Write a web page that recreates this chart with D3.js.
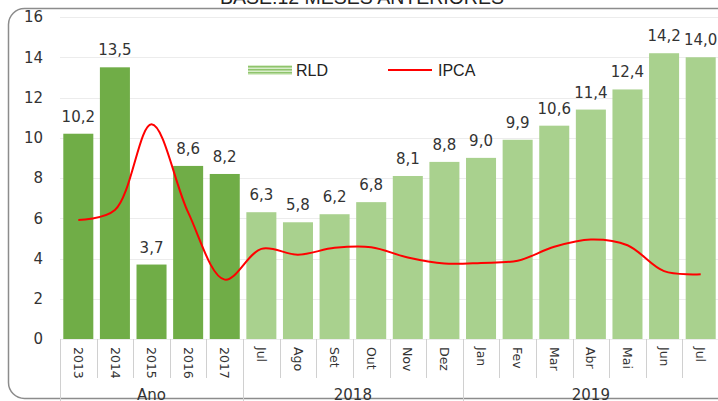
<!DOCTYPE html>
<html>
<head>
<meta charset="utf-8">
<script src="https://cdn.jsdelivr.net/npm/d3@7"></script>
<style>
  body { margin: 0; background: #fff; }
  svg { display: block; }
  text { font-family: "DejaVu Sans", sans-serif; }
</style>
</head>
<body>
<div id="chart"></div>
<script>
// data
var categories = ["2013", "2014", "2015", "2016", "2017",
    "Jul", "Ago", "Set", "Out", "Nov", "Dez",
    "Jan", "Fev", "Mar", "Abr", "Mai", "Jun", "Jul "];
var rld = [10.2, 13.5, 3.7, 8.6, 8.2, 6.3, 5.8, 6.2, 6.8, 8.1, 8.8, 9.0, 9.9, 10.6, 11.4, 12.4, 14.2, 14.0];
var ipca = [5.91, 6.41, 10.67, 6.29, 2.95, 4.48, 4.19, 4.53, 4.56, 4.05, 3.75, 3.78, 3.89, 4.58, 4.94, 4.66, 3.37, 3.22];
var groups = [
    { name: "Ano", from: 0, to: 5 },
    { name: "2018", from: 5, to: 11 },
    { name: "2019", from: 11, to: 18 }
];
var yTicks = [0, 2, 4, 6, 8, 10, 12, 14, 16];
var title = "BASE:12 MESES ANTERIORES";

var W = 718, H = 401;
var svg = d3.select("#chart").append("svg")
    .attr("width", W)
    .attr("height", H);

// rounded frame
svg.append("rect")
    .attr("x", 8.5).attr("y", 8.5)
    .attr("width", 725).attr("height", 390)
    .attr("rx", 16).attr("ry", 16)
    .attr("fill", "none")
    .attr("stroke", "#8c8c8c")
    .attr("stroke-width", 1.5);

// title, mostly cut off at top
svg.append("text")
    .attr("x", 362).attr("y", 4)
    .attr("text-anchor", "middle")
    .style("font-family", "'Liberation Sans', Arial, sans-serif")
    .style("font-size", "19.5px")
    .attr("fill", "#222")
    .text(title);

// scales
var x = d3.scaleBand()
    .domain(d3.range(categories.length))
    .range([60, 719])
    .paddingInner(0.18)
    .paddingOuter(0.09);

var y = d3.scaleLinear()
    .domain([0, 16])
    .range([339, 17]);

// gridlines
svg.append("g").selectAll("line")
    .data(yTicks)
    .enter().append("line")
    .attr("x1", 60).attr("x2", 719)
    .attr("y1", function(d){ return Math.round(y(d)) + 0.5; })
    .attr("y2", function(d){ return Math.round(y(d)) + 0.5; })
    .attr("stroke", "#ececec")
    .attr("stroke-width", 1);

// y labels
svg.append("g").selectAll("text")
    .data(yTicks)
    .enter().append("text")
    .attr("x", 43)
    .attr("y", function(d){ return y(d); })
    .attr("dy", "0.36em")
    .attr("text-anchor", "end")
    .style("font-size", "15px")
    .attr("fill", "#333")
    .text(function(d){ return d; });

// bars
svg.append("g").selectAll("rect")
    .data(rld)
    .enter().append("rect")
    .attr("x", function(d, i){ return x(i); })
    .attr("width", x.bandwidth())
    .attr("y", function(d){ return y(d); })
    .attr("height", function(d){ return y(0) - y(d); })
    .attr("fill", function(d, i){ return i < 5 ? "#70ad47" : "#a9d18e"; });

// bar value labels
var fmt = function(v){ return v.toFixed(1).replace(".", ","); };
svg.append("g").selectAll("text")
    .data(rld)
    .enter().append("text")
    .attr("x", function(d, i){ return x(i) + x.bandwidth() / 2; })
    .attr("y", function(d){ return y(d) - 12; })
    .attr("text-anchor", "middle")
    .style("font-size", "15px")
    .attr("fill", "#333")
    .text(fmt);

// IPCA line
var line = d3.line()
    .x(function(d, i){ return x(i) + x.bandwidth() / 2; })
    .y(function(d){ return y(d); })
    .curve(d3.curveCatmullRom.alpha(0.5));

svg.append("path")
    .datum(ipca)
    .attr("d", line)
    .attr("fill", "none")
    .attr("stroke", "#ff0000")
    .attr("stroke-width", 2);

// category axis
var step = x.step();
var x0 = 60;
var axis = svg.append("g");

axis.selectAll("line.tick")
    .data(d3.range(categories.length + 1))
    .enter().append("line")
    .attr("class", "tick")
    .attr("x1", function(i){ return Math.round(x0 + i * step) + 0.5; })
    .attr("x2", function(i){ return Math.round(x0 + i * step) + 0.5; })
    .attr("y1", 339)
    .attr("y2", function(i){
        var isGroupEdge = groups.some(function(g){ return g.from === i || g.to === i; });
        return isGroupEdge ? 401 : 378;
    })
    .attr("stroke", "#d0d0d0")
    .attr("stroke-width", 1);

axis.selectAll("text.cat")
    .data(categories)
    .enter().append("text")
    .attr("class", "cat")
    .attr("transform", function(d, i){
        return "translate(" + (x(i) + x.bandwidth() / 2) + ",347) rotate(90)";
    })
    .attr("dy", "0.35em")
    .style("font-size", "12.5px")
    .attr("fill", "#333")
    .text(function(d){ return d.trim(); });

axis.selectAll("text.group")
    .data(groups)
    .enter().append("text")
    .attr("class", "group")
    .attr("x", function(g){ return x0 + (g.from + g.to) / 2 * step; })
    .attr("y", 400)
    .attr("text-anchor", "middle")
    .style("font-size", "15px")
    .attr("fill", "#333")
    .text(function(g){ return g.name; });

// legend
var defs = svg.append("defs");
var pat = defs.append("pattern")
    .attr("id", "stripes")
    .attr("width", 6).attr("height", 3)
    .attr("patternUnits", "userSpaceOnUse");
pat.append("rect").attr("width", 6).attr("height", 3).attr("fill", "#d9edcb");
pat.append("rect").attr("width", 6).attr("height", 1.5).attr("fill", "#8fc46c");

var legend = svg.append("g");
legend.append("rect")
    .attr("x", 248).attr("y", 65)
    .attr("width", 44).attr("height", 10)
    .attr("fill", "url(#stripes)");
legend.append("text")
    .attr("x", 296).attr("y", 70)
    .attr("dy", "0.36em")
    .style("font-family", "'Liberation Sans', Arial, sans-serif")
    .style("font-size", "16px")
    .attr("fill", "#222")
    .text("RLD");
legend.append("line")
    .attr("x1", 388).attr("x2", 432)
    .attr("y1", 70).attr("y2", 70)
    .attr("stroke", "#ff0000")
    .attr("stroke-width", 2);
legend.append("text")
    .attr("x", 438).attr("y", 70)
    .attr("dy", "0.36em")
    .style("font-family", "'Liberation Sans', Arial, sans-serif")
    .style("font-size", "16px")
    .attr("fill", "#222")
    .text("IPCA");
</script>
</body>
</html>
